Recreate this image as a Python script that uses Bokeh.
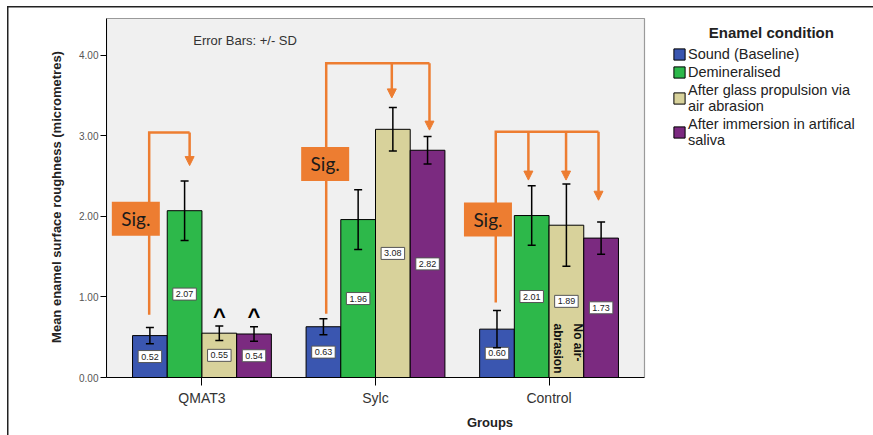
import math
from bokeh.plotting import figure
from bokeh.models import (ColumnDataSource, Legend, LegendItem,
                          Arrow, NormalHead, Label, FixedTicker, Range1d)
from bokeh.core.properties import value
from bokeh.embed import file_html
from bokeh.resources import INLINE

# ---------------- data ----------------
groups = ["QMAT3", "Sylc", "Control"]
conditions = ["Sound (Baseline)", "Demineralised",
              "After glass propulsion via\nair abrasion",
              "After immersion in artifical\nsaliva"]
sound_mean = [0.52, 0.63, 0.60]
demin_mean = [2.07, 1.96, 2.01]
glass_mean = [0.55, 3.08, 1.89]
saliva_mean = [0.54, 2.82, 1.73]
sound_sd = [0.10, 0.10, 0.23]
demin_sd = [0.37, 0.37, 0.37]
glass_sd = [0.09, 0.27, 0.51]
saliva_sd = [0.09, 0.17, 0.20]
y_ticks = [0, 1, 2, 3, 4]
y_tick_labels = ["0.00", "1.00", "2.00", "3.00", "4.00"]

means = [sound_mean, demin_mean, glass_mean, saliva_mean]
sds = [sound_sd, demin_sd, glass_sd, saliva_sd]
colors = ["#3A56B0", "#2DB84A", "#D8D29B", "#7B2A80"]
offsets = [-0.3, -0.1, 0.1, 0.3]
ORANGE = "#ED7D31"
FONT_NAME = "Liberation Sans"
FONT = value(FONT_NAME)

# layout: plot panel spans x 0.45..3.55 over 538 px; the frame continues to the
# right edge so the legend can live inside it (white area)
W, H = 873, 435
LEFT, TOP, BOTTOM = 106, 16, 58
X0, X1 = 0.45, 3.55
PANEL_PX = 538
frame_w = W - LEFT
x_end = X0 + (X1 - X0) * frame_w / PANEL_PX
Y_TOP_PANEL = 4.455
Y_END = 4.48

p = figure(width=W, height=H, x_range=Range1d(X0, x_end), y_range=Range1d(0, Y_END),
           output_backend="svg", toolbar_location=None,
           min_border_left=LEFT, min_border_right=0, min_border_top=TOP,
           min_border_bottom=BOTTOM)
p.background_fill_color = "white"
p.border_fill_alpha = 0
# outer frame lines of the original figure (left and top edges)
p.styles = {"background": "linear-gradient(#222,#222) 7px 6px / 1.5px 100% no-repeat, "
                          "linear-gradient(#222,#222) 7px 6px / 100% 1.5px no-repeat, white"}
p.outline_line_color = None
p.xgrid.visible = False
p.ygrid.visible = False

# grey plot panel
p.quad(left=[X0], right=[X1], bottom=[0], top=[Y_TOP_PANEL], fill_color="#F0F0F0",
       line_color="#9A9A9A", line_width=1.2)

renderers = []
sources = []
for i in range(4):
    xs = [g + 1 + offsets[i] for g in range(len(groups))]
    m = means[i]
    s = sds[i]
    src = ColumnDataSource(dict(
        x=xs, top=m,
        upper=[a + b for a, b in zip(m, s)],
        lower=[a - b for a, b in zip(m, s)],
        mid=[a / 2 for a in m],
        lab=["%.2f" % a for a in m]))
    sources.append(src)
    r = p.vbar(x="x", top="top", width=0.2, source=src, fill_color=colors[i],
               line_color="black", line_width=1)
    renderers.append(r)
    p.text(x="x", y="mid", text="lab", source=src, text_align="center",
           text_baseline="middle", text_font=FONT, text_font_size="9px",
           text_color="#222222", background_fill_color="white",
           border_line_color="#555555", border_line_width=1, padding=3)

# error bars (+/- SD)
for src in sources:
    p.segment(x0="x", y0="lower", x1="x", y1="upper", source=src,
              line_color="black", line_width=1.5)
    p.scatter(x="x", y="upper", source=src, marker="dash", size=8,
              line_color="black", line_width=1.5)
    p.scatter(x="x", y="lower", source=src, marker="dash", size=8,
              line_color="black", line_width=1.5)

# ---------------- significance annotations ----------------
brackets = [
    (0.696, 0.78, 3.04, [(0.929, 2.63)], (0.619, 1.97)),
    (1.716, 0.79, 3.90, [(2.094, 3.47), (2.311, 3.07)], (1.710, 2.65)),
    (2.693, 0.93, 3.05, [(2.881, 2.45), (3.098, 2.45), (3.285, 2.20)], (2.648, 1.96)),
]
for x0, yb, yt, arrows, box in brackets:
    x_right = arrows[-1][0]
    p.line([x0, x0, x_right], [yb, yt, yt], line_color=ORANGE, line_width=2.5,
           line_join="miter")
    for ax, tip in arrows:
        p.add_layout(Arrow(x_start=ax, y_start=yt, x_end=ax, y_end=tip,
                           line_color=ORANGE, line_width=2.5,
                           end=NormalHead(size=9, fill_color=ORANGE, line_color=ORANGE,
                                          line_width=1)))
    p.rect(x=[box[0]], y=[box[1]], width=48, height=34, width_units="screen",
           height_units="screen", fill_color=ORANGE, line_color=None)
    p.text(x=[box[0]], y=[box[1]], text=["Sig."], text_align="center",
           text_baseline="middle", text_font=value("Lato"), text_font_size="19px",
           text_color="#1A1A1A")

# carets over QMAT3 glass / saliva
p.text(x=[1.1, 1.3], y=[0.76, 0.76], text=["^", "^"], text_align="center",
       text_baseline="alphabetic", text_font=FONT, text_font_size="22px",
       text_font_style="bold", text_color="black")

# rotated note inside Control glass bar
p.text(x=[3.11], y=[0.67], text=["No air-\nabrasion"], angle=-math.pi / 2,
       text_align="left", text_baseline="middle", text_font=FONT,
       text_font_size="12px", text_font_style="bold", text_color="#111111",
       text_line_height=1.45)

p.add_layout(Label(x=0.95, y=4.18, text="Error Bars: +/-  SD", text_font=FONT_NAME,
                   text_font_size="13px", text_baseline="middle", text_color="#333333"))

# ---------------- axes ----------------
p.xaxis.ticker = FixedTicker(ticks=[1, 2, 3])
p.xaxis.major_label_overrides = {i + 1: g for i, g in enumerate(groups)}
p.xaxis.bounds = (X0, X1)
p.yaxis.ticker = FixedTicker(ticks=y_ticks)
p.yaxis.major_label_overrides = dict(zip(y_ticks, y_tick_labels))
p.yaxis.bounds = (0, Y_TOP_PANEL)
for ax in (p.xaxis, p.yaxis):
    ax.axis_line_color = "black"
    ax.major_tick_line_color = "black"
    ax.minor_tick_line_color = None
    ax.major_tick_in = 0
    ax.major_label_text_font = FONT_NAME
    ax.axis_label_text_font = FONT_NAME
    ax.axis_label_text_font_style = "bold"
    ax.axis_label_text_font_size = "13px"
    ax.axis_label_text_color = "#222222"
p.xaxis.major_tick_out = 8
p.xaxis.major_label_standoff = 4
p.xaxis.major_label_text_font_size = "14px"
p.xaxis.major_label_text_color = "#333333"
p.xaxis.axis_label = "Groups"
p.xaxis.axis_label_standoff = 6
p.yaxis.major_tick_out = 6
p.yaxis.major_label_standoff = 2
p.yaxis.major_label_text_font_size = "10px"
p.yaxis.major_label_text_color = "#555555"
p.yaxis.axis_label = "Mean enamel surface roughness (micrometres)"
p.yaxis.axis_label_standoff = 12

# ---------------- legend ----------------
legend = Legend(items=[LegendItem(label=c, renderers=[r]) for c, r in zip(conditions, renderers)],
                location=(566, 229), margin=0, padding=0, spacing=2,
                glyph_width=14, glyph_height=14, label_height=14, label_standoff=2,
                label_text_font=FONT_NAME, label_text_font_size="14.5px",
                label_text_line_height=0.9, label_text_color="#222222",
                border_line_color=None, background_fill_alpha=0)
p.add_layout(legend)
p.add_layout(Label(x=4.281, y=4.28, text="Enamel condition", text_font=FONT_NAME,
                   text_font_size="15px", text_font_style="bold", text_align="center",
                   text_baseline="middle", text_color="#222222"))

open("out.html", "w").write(file_html(p, INLINE))
